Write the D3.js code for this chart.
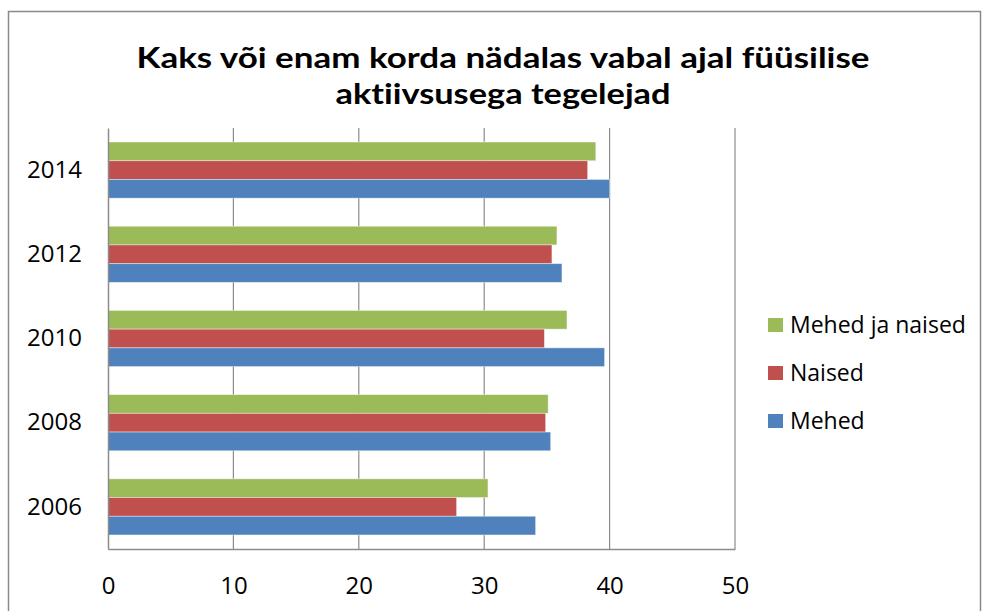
<!DOCTYPE html>
<html>
<head>
<meta charset="utf-8">
<script src="https://cdn.jsdelivr.net/npm/d3@7"></script>
<style>
  body { margin: 0; background: #fff; }
  svg { display: block; }
</style>
</head>
<body>
<div id="chart"></div>
<script>
const years = ["2014", "2012", "2010", "2008", "2006"];
const seriesNames = ["Mehed ja naised", "Naised", "Mehed"];
const seriesColors = ["#9BBB59", "#C0504D", "#4F81BD"];
const mehedJaNaised = [38.9, 35.8, 36.6, 35.1, 30.3];
const naised = [38.25, 35.4, 34.8, 34.9, 27.8];
const mehed = [40.0, 36.2, 39.6, 35.3, 34.1];
const xTicks = [0, 10, 20, 30, 40, 50];
const titleLines = ["Kaks või enam korda nädalas vabal ajal füüsilise", "aktiivsusega tegelejad"];

const width = 984, height = 611;
const plot = { left: 108, right: 735, top: 128, bottom: 549 };

const svg = d3.select("#chart").append("svg")
  .attr("width", width)
  .attr("height", height);

// outer frame
svg.append("rect")
  .attr("x", 8.5).attr("y", 11.5)
  .attr("width", 972).attr("height", 620)
  .attr("fill", "#fff")
  .attr("stroke", "#8a8a8a")
  .attr("stroke-width", 1.5);

// title (the original is stretched wide, so fit each line to its measured width)
const titleWidths = [733, 335];
svg.append("g").selectAll("text")
  .data(titleLines)
  .join("text")
  .attr("x", 503)
  .attr("y", (d, i) => 68 + i * 36)
  .attr("text-anchor", "middle")
  .attr("font-family", "Lato, 'Open Sans', sans-serif")
  .attr("font-weight", "bold")
  .attr("font-size", 28)
  .attr("fill", "#000")
  .style("font-variant-ligatures", "none")
  .attr("textLength", (d, i) => titleWidths[i])
  .attr("lengthAdjust", "spacingAndGlyphs")
  .text(d => d);

const xScale = d3.scaleLinear().domain([0, 50]).range([plot.left, plot.right]);
const yScale = d3.scaleBand().domain(years).range([plot.top, plot.bottom])
  .paddingInner(1 / 3).paddingOuter(1 / 6);
const inner = d3.scaleBand().domain(seriesNames).range([0, yScale.bandwidth()]);

// gridlines
svg.append("g")
  .selectAll("line")
  .data(xTicks.slice(1))
  .join("line")
  .attr("x1", d => xScale(d)).attr("x2", d => xScale(d))
  .attr("y1", plot.top).attr("y2", plot.bottom)
  .attr("stroke", "#8c8c8c")
  .attr("stroke-width", 1.2);

// bars
const rows = years.map((y, i) => ({
  year: y,
  values: [mehedJaNaised[i], naised[i], mehed[i]]
}));

svg.append("g")
  .selectAll("g")
  .data(rows)
  .join("g")
  .attr("transform", d => `translate(0, ${yScale(d.year)})`)
  .selectAll("rect")
  .data(d => d.values.map((v, j) => ({ name: seriesNames[j], value: v, color: seriesColors[j] })))
  .join("rect")
  .attr("x", xScale(0))
  .attr("y", d => inner(d.name))
  .attr("width", d => xScale(d.value) - xScale(0))
  .attr("height", inner.bandwidth())
  .attr("fill", d => d.color)
  .attr("stroke", "#fff")
  .attr("stroke-opacity", 0.5)
  .attr("stroke-width", 0.8);

// axes
const xAxis = svg.append("g")
  .attr("transform", `translate(0, ${plot.bottom})`)
  .call(d3.axisBottom(xScale).tickValues(xTicks).tickSize(0).tickPadding(28));
xAxis.select(".domain").attr("stroke", "#8c8c8c").attr("stroke-width", 1.5);
xAxis.selectAll("text")
  .attr("font-family", "'Open Sans', 'DejaVu Sans', sans-serif")
  .attr("font-size", 24)
  .attr("fill", "#000");

const yAxis = svg.append("g")
  .attr("transform", `translate(${plot.left}, 0)`)
  .call(d3.axisLeft(yScale).tickSize(0).tickPadding(26));
yAxis.select(".domain").attr("stroke", "#8c8c8c").attr("stroke-width", 1.5);
yAxis.selectAll("text")
  .attr("font-family", "'Open Sans', 'DejaVu Sans', sans-serif")
  .attr("font-size", 24)
  .attr("fill", "#000");

// legend
const legend = svg.append("g")
  .selectAll("g")
  .data(seriesNames)
  .join("g")
  .attr("transform", (d, i) => `translate(768, ${325 + i * 48})`);

legend.append("rect")
  .attr("x", 0).attr("y", -7)
  .attr("width", 15).attr("height", 14)
  .attr("fill", (d, i) => seriesColors[i]);

legend.append("text")
  .attr("x", 22).attr("y", 0)
  .attr("dy", "0.35em")
  .attr("font-family", "'Open Sans', 'DejaVu Sans', sans-serif")
  .attr("font-size", 23)
  .attr("fill", "#000")
  .text(d => d);
</script>
</body>
</html>
